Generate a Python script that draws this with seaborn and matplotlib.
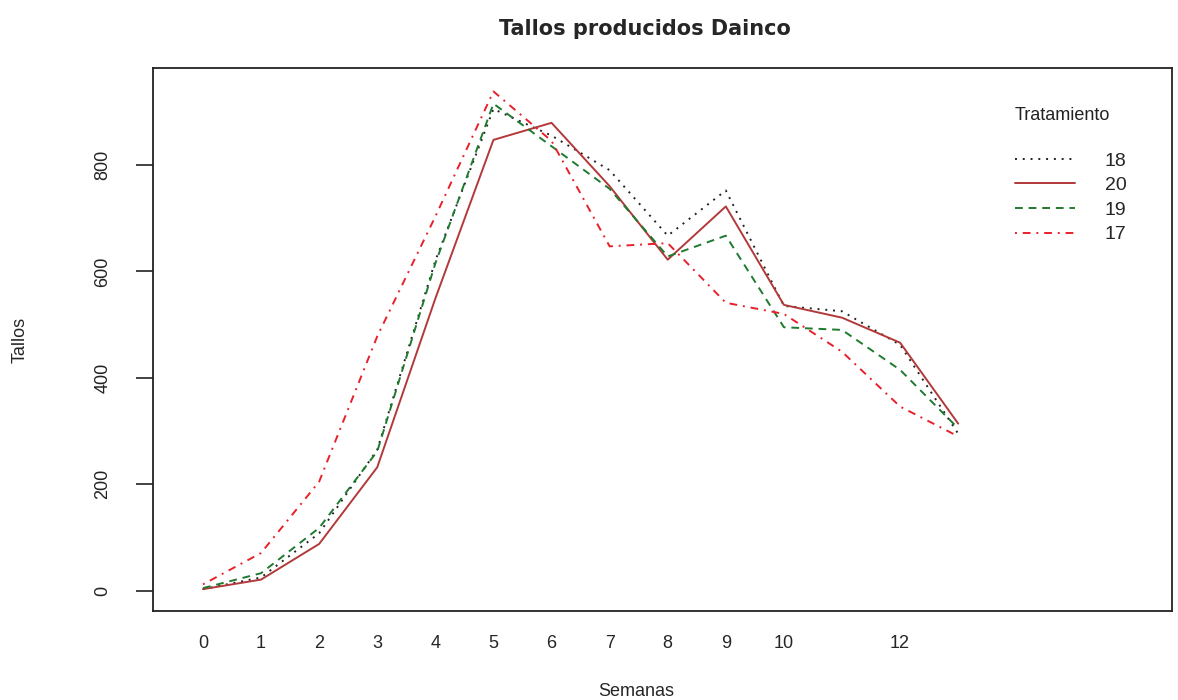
import numpy as np
import pandas as pd
import matplotlib
matplotlib.use("Agg")
import matplotlib.pyplot as plt
from matplotlib.lines import Line2D
import seaborn as sns

semanas = list(range(14))
t18 = [3, 25, 108, 265, 620, 905, 855, 790, 667, 752, 535, 525, 462, 295]
t20 = [3, 21, 88, 232, 549, 847, 879, 760, 622, 722, 537, 513, 466, 314]
t19 = [5, 33, 118, 262, 615, 915, 835, 755, 628, 667, 495, 490, 415, 305]
t17 = [12, 71, 205, 478, 703, 938, 845, 647, 653, 541, 520, 449, 346, 290]
tratamientos = ["18", "20", "19", "17"]
xtick_pos = [0, 1, 2, 3, 4, 5, 6, 7, 8, 9, 10, 12]
xtick_labels = ["0", "1", "2", "3", "4", "5", "6", "7", "8", "9", "10", "12"]
yticks = [0, 200, 400, 600, 800]

df = pd.DataFrame({
    "Semanas": semanas * 4,
    "Tallos": t18 + t20 + t19 + t17,
    "Tratamiento": sum([[k] * len(semanas) for k in tratamientos], []),
})

sns.set_style("ticks")
plt.rcParams["font.family"] = ["Liberation Sans", "DejaVu Sans"]

fig = plt.figure(figsize=(11.78, 7.0), dpi=100)
ax = fig.add_axes([153 / 1178, 1 - 611 / 700, (1172 - 153) / 1178, (611 - 68) / 700])

palette = {"18": "#222222", "20": "#B2393A", "19": "#1E7A2E", "17": "#E8202A"}
dashes = {"18": (1, 3), "20": "", "19": (4, 3), "17": (1, 3, 4, 3)}

sns.lineplot(data=df, x="Semanas", y="Tallos", hue="Tratamiento", style="Tratamiento",
             hue_order=tratamientos, style_order=tratamientos,
             palette=palette, dashes=dashes, linewidth=1.4, ax=ax, legend=False)

ax.set_xlim(-0.86, 16.68)
ax.set_ylim(-38, 982)
ax.set_xticks(xtick_pos)
ax.set_xticklabels(xtick_labels, fontsize=13)
ax.set_yticks(yticks)
ax.set_yticklabels([str(v) for v in yticks], rotation=90, va="center", fontsize=13)
ax.tick_params(axis="x", length=0, pad=17)
ax.tick_params(axis="y", length=12, width=1.2, pad=18, direction="out", colors="#222222")
for s in ax.spines.values():
    s.set_visible(True)
    s.set_linewidth(1.3)
    s.set_color("#222222")

ax.set_xlabel("Semanas", fontsize=13)
ax.xaxis.set_label_coords(0.474, -0.132)
ax.set_ylabel("Tallos", fontsize=13)
ax.yaxis.set_label_coords(-0.122, 0.5)
ax.set_title("Tallos producidos Dainco", fontsize=15, fontweight="bold",
             family=["DejaVu Sans"], x=0.483, y=1.045)

handles = []
for k in tratamientos:
    d = dashes[k]
    ls = "-" if d == "" else (0, d)
    handles.append(Line2D([], [], color=palette[k], linewidth=1.4, linestyle=ls))

ax.text(0.846, (611 - 115) / 543, "Tratamiento", transform=ax.transAxes,
        ha="left", va="center", fontsize=13, color="#222222")
leg = ax.legend(handles, tratamientos, loc="upper left",
                bbox_to_anchor=(0.846, (611 - 152) / 543), frameon=False, fontsize=14,
                handlelength=3.1, handletextpad=1.5, labelspacing=0.36,
                borderaxespad=0, borderpad=0)

fig.savefig("out.png", dpi=100)
